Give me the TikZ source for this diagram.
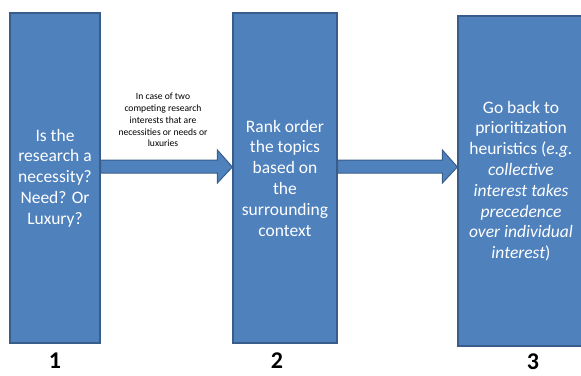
\documentclass[tikz,border=0pt]{standalone}
\usepackage{fontspec}
\setmainfont{Carlito}
\usetikzlibrary{calc}
\definecolor{officeblue}{HTML}{4F81BD}
\definecolor{officeline}{HTML}{385D8A}

\begin{document}
\begin{tikzpicture}[x=1pt,y=-1pt,
    stepbox/.style={rectangle,fill=officeblue,draw=officeline,line width=1.3pt,
      inner sep=0pt,text=white,align=center,font=\fontsize{17.5}{20.8}\selectfont},
    blockarrow/.style={fill=officeblue,draw=officeline,line width=1pt,line join=miter},
    stepnum/.style={inner sep=0pt,font=\fontsize{24}{26}\selectfont\bfseries}]
    \useasboundingbox (0,0) rectangle (581,375);
    \node[stepbox,minimum width=90pt,minimum height=330pt] (necessity) at (55,178)
    {Is the\\research a\\necessity?\\Need? Or\\Luxury?};
    \node[stepbox,minimum width=104pt,minimum height=330pt] (rank) at (285,178)
    {Rank order\\the topics\\based on\\the\\surrounding\\context};
    \node[stepbox,minimum width=126pt,minimum height=330pt] (heuristics) at (521,181)
    {Go back to\\prioritization\\heuristics (\textit{e.g.}\\\textit{collective}\\\textit{interest takes}\\\textit{precedence}\\\textit{over individual}\\\textit{interest})};
    % block arrows between the steps
    \foreach \a/\b in {necessity/rank,rank/heuristics}{
      \coordinate (tip) at (\b.west |- 0,167);
      \filldraw[blockarrow] (\a.east |- 0,160) -- ($(tip)+(-15,-7)$)
      -- ($(tip)+(-15,-17)$) -- (tip) -- ($(tip)+(-15,16)$)
      -- ($(tip)+(-15,6)$) -- (\a.east |- 0,173) -- cycle;
    }
    \node[align=center,font=\fontsize{9.6}{11.8}\selectfont] (note) at (163,120)
    {In case of two\\competing research\\interests that are\\necessities or needs or\\luxuries};
    \node[stepnum] (num1) at (55,361) {1};
    \node[stepnum] (num2) at (277,361) {2};
    \node[stepnum] (num3) at (533,362) {3};
  \end{tikzpicture}
\end{document}
